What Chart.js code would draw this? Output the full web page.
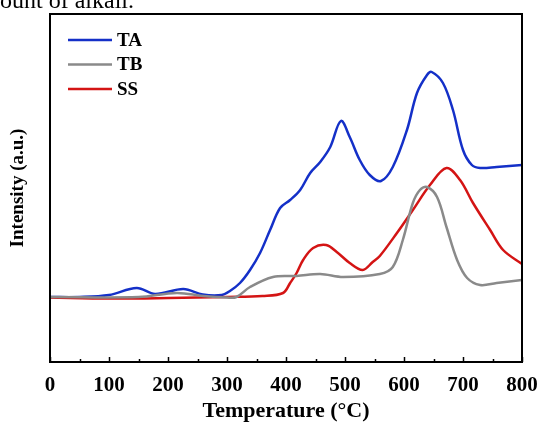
<!DOCTYPE html>
<html>
<head>
<meta charset="utf-8">
<script src="https://cdn.jsdelivr.net/npm/chart.js@4/dist/chart.umd.min.js"></script>
<style>
    html, body { margin: 0; padding: 0; background: #fff; }
    #wrap { width: 539px; height: 425px; position: relative; }
</style>
</head>
<body>
<div id="wrap"><canvas id="tpd-chart"></canvas></div>
<script>
// temperatures (°C) and intensity (a.u.)
const taTemp = [0, 50, 100, 147, 178, 226, 259, 291, 305, 322, 339, 356, 373, 390, 407, 424, 441, 458, 475, 493, 508, 525, 542, 561, 581, 605, 622, 639, 647, 666, 683, 700, 715, 729, 757, 800];
const taIntensity = [65, 65, 67, 74, 68, 73, 67.5, 67, 71, 79, 92, 109, 132, 154, 162, 172, 189, 200, 215, 241, 225, 202, 187, 181, 195, 232, 269, 287, 290, 279, 252, 212, 197, 194, 195, 197];

const tbTemp = [0, 150, 215, 260, 300, 316, 339, 378, 418, 458, 497, 559, 581, 598, 615, 627, 639, 656, 672, 690, 707, 729, 757, 800];
const tbIntensity = [65, 65, 69, 66, 64.5, 65, 75, 85, 86, 88, 85, 88, 95, 122, 159, 172, 175, 165, 135, 102, 84, 77, 79, 82];

const ssTemp = [0, 100, 200, 300, 360, 395, 407, 418, 429, 446, 468, 486, 508, 530, 547, 559, 588, 615, 644, 672, 695, 717, 746, 768, 800];
const ssIntensity = [64.5, 63.5, 64, 65, 66, 69, 79, 89, 102, 114, 117, 110, 99, 92, 100, 106, 129, 152, 177, 194, 182, 159, 132, 112, 98];

const seriesNames = ['TA', 'TB', 'SS'];
const seriesColors = ['#1430c8', '#8a8a8a', '#d41414'];

const xTicks = [0, 100, 200, 300, 400, 500, 600, 700, 800];

const SERIF = "'Liberation Serif', 'Times New Roman', serif";

function toPoints(xs, ys) {
    return xs.map((x, i) => ({ x: x, y: ys[i] }));
}

// frame, inward ticks, legend and the cut caption line
const decorPlugin = {
    id: 'decor',
    afterDraw(chart) {
        const ctx = chart.ctx;
        const area = chart.chartArea;
        const xs = chart.scales.x;
        ctx.save();

        ctx.strokeStyle = '#000';
        ctx.lineWidth = 2;
        ctx.strokeRect(area.left, area.top, area.right - area.left, area.bottom - area.top);

        ctx.lineWidth = 1.5;
        for (let t = 0; t <= 800; t += 50) {
            const px = Math.round(xs.getPixelForValue(t)) + 0.5;
            const len = t % 100 === 0 ? 5 : 3;
            ctx.beginPath();
            ctx.moveTo(px, area.bottom);
            ctx.lineTo(px, area.bottom - len);
            ctx.stroke();
        }

        // legend
        ctx.font = `bold 19px ${SERIF}`;
        ctx.textBaseline = 'middle';
        ctx.textAlign = 'left';
        seriesNames.forEach((name, i) => {
            const y = 40 + i * 24.5;
            ctx.strokeStyle = seriesColors[i];
            ctx.lineWidth = 2.5;
            ctx.beginPath();
            ctx.moveTo(68, y);
            ctx.lineTo(112, y);
            ctx.stroke();
            ctx.fillStyle = '#000';
            ctx.fillText(name, 117, y + 1);
        });

        // bottom of the caption line above the figure
        ctx.font = `24px ${SERIF}`;
        ctx.textBaseline = 'alphabetic';
        ctx.fillStyle = '#000';
        ctx.fillText('ount of alkali.', 0, 8);

        ctx.restore();
    }
};

const datasets = [
    { label: 'TA', data: toPoints(taTemp, taIntensity), borderColor: seriesColors[0], order: 3 },
    { label: 'TB', data: toPoints(tbTemp, tbIntensity), borderColor: seriesColors[1], order: 1 },
    { label: 'SS', data: toPoints(ssTemp, ssIntensity), borderColor: seriesColors[2], order: 2 }
].map(ds => Object.assign(ds, {
    borderWidth: 2.5,
    pointRadius: 0,
    fill: false,
    tension: 0.35
}));

new Chart(document.getElementById('tpd-chart'), {
    type: 'line',
    data: { datasets: datasets },
    options: {
        responsive: true,
        maintainAspectRatio: false,
        animation: false,
        layout: { padding: { top: 14, right: 17, left: 0, bottom: 0 } },
        plugins: {
            legend: { display: false },
            tooltip: { enabled: false }
        },
        scales: {
            x: {
                type: 'linear',
                min: 0,
                max: 800,
                afterBuildTicks: (scale) => { scale.ticks = xTicks.map(v => ({ value: v })); },
                afterFit: (scale) => {
                    scale.height = 63;
                    scale.paddingLeft = 0;
                    scale.paddingRight = 0;
                },
                grid: { display: false, drawTicks: false },
                border: { display: false },
                ticks: {
                    color: '#000',
                    padding: 11,
                    maxRotation: 0,
                    font: { family: SERIF, size: 21, weight: 'bold' }
                },
                title: {
                    display: true,
                    text: 'Temperature (°C)',
                    color: '#000',
                    padding: { top: 0, bottom: 0 },
                    font: { family: SERIF, size: 22, weight: 'bold' }
                }
            },
            y: {
                min: 0,
                max: 348,
                afterFit: (scale) => { scale.width = 50; },
                grid: { display: false, drawTicks: false },
                border: { display: false },
                ticks: { display: false },
                title: {
                    display: true,
                    text: 'Intensity (a.u.)',
                    color: '#000',
                    padding: { top: 7, bottom: 0 },
                    font: { family: SERIF, size: 19, weight: 'bold' }
                }
            }
        }
    },
    plugins: [decorPlugin]
});
</script>
</body>
</html>
